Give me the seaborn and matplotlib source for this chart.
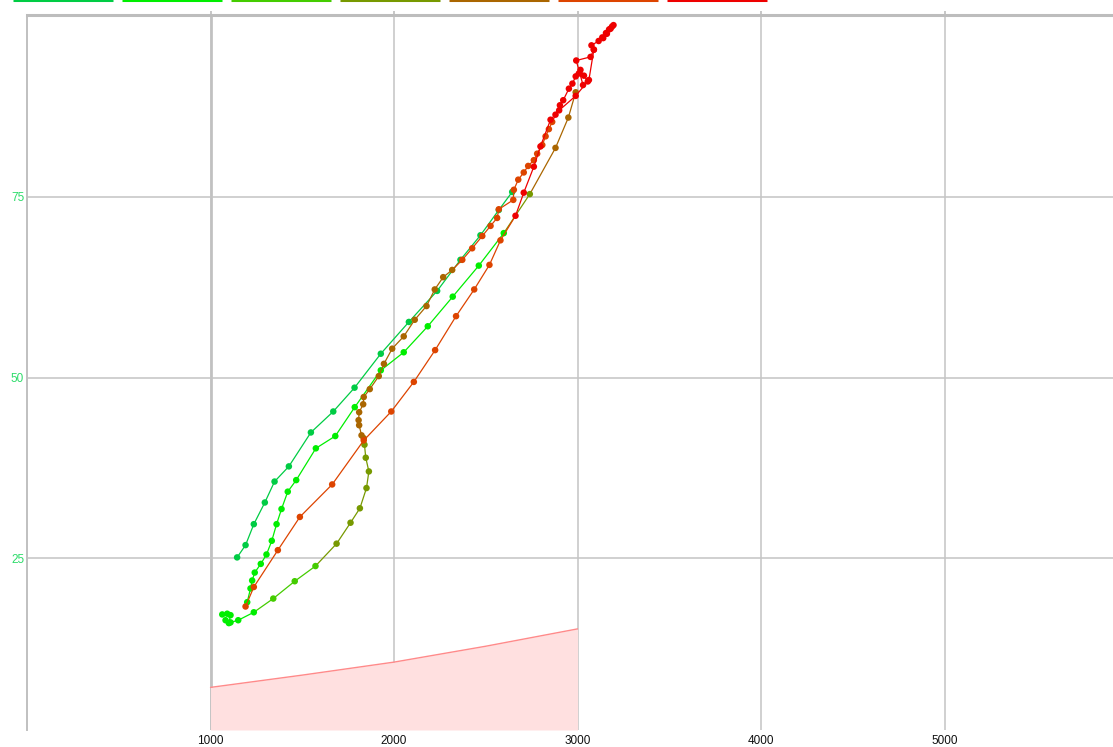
import numpy as np
import pandas as pd
import matplotlib
matplotlib.use('Agg')
import matplotlib.pyplot as plt
from matplotlib.lines import Line2D
import seaborn as sns

sns.set_style('white')
plt.rcParams['font.family'] = ['Liberation Sans', 'DejaVu Sans']

# ---------------------------------------------------------------
# data
# ---------------------------------------------------------------
# 7 series colours, green -> red
SERIES_COLORS = ['#00cc44', '#00ee00', '#44cc00', '#779900', '#aa6600', '#dd4400', '#ee0000']

# left green track
left_x = [1145, 1191, 1236, 1296, 1349, 1427, 1547, 1669, 1785, 1928, 2081, 2235, 2362, 2471, 2571, 2644]
left_y = [25.1, 26.8, 29.7, 32.7, 35.6, 37.7, 42.4, 45.3, 48.6, 53.3, 57.7, 62.0, 66.3, 69.7, 73.2, 75.7]
left_c = [0] * 16

# middle green track
mid_x = [1200, 1218, 1227, 1241, 1274, 1305, 1334, 1360, 1387, 1421, 1467, 1574, 1680, 1786,
         1928, 2053, 2184, 2320, 2462, 2598, 2740, 2880, 2950, 2990]
mid_y = [18.9, 20.8, 21.9, 23.0, 24.2, 25.5, 27.4, 29.7, 31.8, 34.2, 35.8, 40.2, 41.9, 45.9,
         51.0, 53.5, 57.1, 61.2, 65.5, 70.0, 75.4, 81.8, 86.0, 89.5]
mid_c = [1] * 20 + [3, 4, 4, 4]

# lower loop, green -> olive -> brown -> orange -> red
loop_x = [1064, 1091, 1109, 1100, 1082, 1109, 1151, 1236, 1342, 1459, 1572, 1687, 1763, 1814,
          1850, 1863, 1846, 1839, 1835, 1823, 1810, 1807, 1810, 1832, 1835, 1868, 1917, 1945,
          1990, 2053, 2113, 2177, 2222, 2268, 2317, 2372, 2426, 2481, 2526, 2562, 2571, 2650,
          2653, 2677, 2707, 2731, 2762, 2780, 2808, 2826, 2844, 2862, 2880, 2904, 2922, 2953,
          2972, 2990, 3007, 3016, 3035, 3056, 3030, 2993, 3071, 3089, 3076, 3115, 3135, 3155,
          3172, 3188, 3196, 3180, 3160, 3140]
loop_y = [17.2, 17.3, 17.1, 16.0, 16.4, 16.1, 16.4, 17.5, 19.4, 21.8, 23.9, 27.0, 29.9, 31.9,
          34.7, 37.0, 38.9, 40.7, 41.6, 42.0, 43.4, 44.1, 45.2, 46.3, 47.3, 48.4, 50.2, 51.9,
          54.0, 55.7, 58.0, 59.9, 62.2, 63.9, 64.9, 66.3, 67.9, 69.6, 71.0, 72.1, 73.3, 74.6,
          76.0, 77.4, 78.4, 79.3, 80.1, 81.0, 82.2, 83.4, 84.4, 85.4, 86.4, 87.7, 88.4, 90.0,
          90.7, 91.7, 92.1, 92.6, 91.8, 91.0, 90.5, 93.9, 94.4, 95.4, 96.0, 96.6, 97.1, 97.7,
          98.2, 98.6, 98.8, 98.3, 97.6, 97.0]
loop_c = [1] * 8 + [2] * 3 + [3] * 7 + [4] * 17 + [5] * 17 + [6] * 24

# descent from the top back to the start
down_x = [3089, 3062, 2990, 2900, 2853, 2798, 2762, 2707, 2662, 2580, 2520, 2437, 2338, 2224,
          2108, 1985, 1835, 1663, 1487, 1367, 1236, 1191]
down_y = [95.4, 91.2, 89.0, 87.0, 85.7, 82.0, 79.2, 75.6, 72.4, 69.0, 65.6, 62.2, 58.5, 53.8,
          49.4, 45.3, 41.3, 35.2, 30.7, 26.1, 21.0, 18.3]
down_c = [6] * 9 + [5] * 13

# pink zone
zone_x = [1000, 1500, 2000, 2500, 3000]
zone_y = [7.1, 8.8, 10.6, 12.8, 15.2]

X_TICKS = [1000, 2000, 3000, 4000, 5000]
Y_TICKS = [25, 50, 75]

# ---------------------------------------------------------------
# helpers
# ---------------------------------------------------------------
def make_segments(xs, ys, cs, name):
    rows = []
    for i in range(len(xs) - 1):
        seg = f'{name}_{i}'
        rows.append((seg, xs[i], ys[i], cs[i + 1]))
        rows.append((seg, xs[i + 1], ys[i + 1], cs[i + 1]))
    return pd.DataFrame(rows, columns=['seg', 'x', 'y', 'c'])

palette = {i: c for i, c in enumerate(SERIES_COLORS)}
YMIN, YMAX = 1.2, 100.2

# ---------------------------------------------------------------
# figure
# ---------------------------------------------------------------
fig = plt.figure(figsize=(11.13, 7.47), dpi=100)
ax = fig.add_axes([27 / 1113, 17 / 747, 1 - 27 / 1113, 715 / 747])

ax.fill_between(zone_x, zone_y, YMIN, color='#ffe0e0', lw=0, zorder=1)
sns.lineplot(x=zone_x, y=zone_y, color='#ff8a8a', lw=1.0, ax=ax, zorder=2)

tracks = [('left', left_x, left_y, left_c),
          ('mid', mid_x, mid_y, mid_c),
          ('loop', loop_x, loop_y, loop_c),
          ('down', down_x, down_y, down_c)]

z = 3
for name, xs, ys, cs in tracks:
    seg_df = make_segments(xs, ys, cs, name)
    sns.lineplot(data=seg_df, x='x', y='y', hue='c', units='seg', estimator=None,
                 sort=False, palette=palette, lw=0.9, legend=False, ax=ax, zorder=z)
    pts = pd.DataFrame({'x': xs, 'y': ys, 'c': cs})
    sns.scatterplot(data=pts, x='x', y='y', hue='c', palette=palette, s=22,
                    linewidth=0, legend=False, ax=ax, zorder=z + 1)
    z += 2

ax.set_xlim(0, 5918)
ax.set_ylim(YMIN, YMAX)
ax.set_xticks(X_TICKS)
ax.set_yticks(Y_TICKS)
ax.set_xlabel('')
ax.set_ylabel('')

ax.grid(True, color='#c4c4c4', lw=1.1)
ax.set_axisbelow(True)
ax.axvline(1000, color='#b8b8b8', lw=1.8, zorder=0.5)

for side in ['right', 'bottom']:
    ax.spines[side].set_visible(False)
ax.spines['top'].set_color('#bdbdbd')
ax.spines['top'].set_linewidth(2.2)
ax.spines['left'].set_color('#c0c0c0')
ax.spines['left'].set_linewidth(1.4)

ax.tick_params(axis='x', bottom=False, top=True, labelbottom=True, labeltop=False,
               length=3, width=1.2, color='#bdbdbd', pad=0.5, labelsize=8.5, labelcolor='#111111')
ax.tick_params(axis='y', left=False, length=0, pad=2, labelsize=8.5, labelcolor='#2ddc6a')

# legend strip along the top edge
handles = [Line2D([], [], color=c, lw=2.2, solid_capstyle='butt') for c in SERIES_COLORS]
fig.legend(handles, [''] * 7, loc='upper left', bbox_to_anchor=(13 / 1113, 1 + 3 / 747),
           ncol=7, frameon=False, fontsize=6, handlelength=12.0, handletextpad=0,
           columnspacing=1.08, borderpad=0, borderaxespad=0)

fig.savefig('out.png', dpi=100)
